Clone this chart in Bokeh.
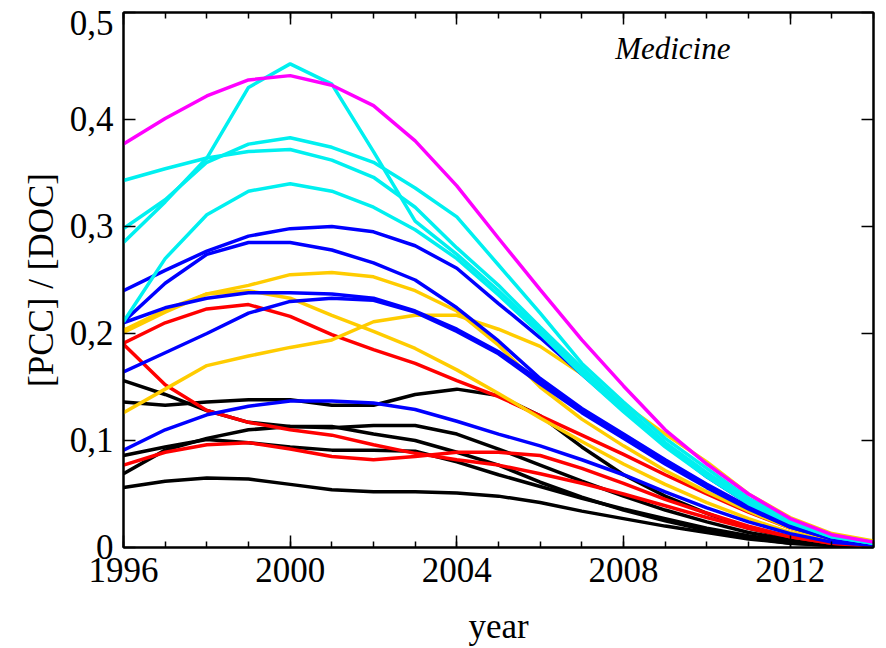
from bokeh.plotting import figure
from bokeh.models import Range1d, LinearAxis, FixedTicker, Label
from bokeh.embed import file_html
from bokeh.resources import INLINE

years = list(range(1996, 2015))

# PCC/DOC ratio per group, one value per year 1996..2014
magenta_1 = [0.377, 0.401, 0.422, 0.437, 0.441, 0.432, 0.413, 0.380, 0.338, 0.289,
             0.241, 0.194, 0.151, 0.110, 0.078, 0.050, 0.027, 0.012, 0.005]

cyan_a = [0.343, 0.354, 0.364, 0.370, 0.372, 0.362, 0.346, 0.318, 0.280, 0.245,
          0.206, 0.168, 0.132, 0.098, 0.070, 0.044, 0.025, 0.011, 0.004]
cyan_b = [0.298, 0.325, 0.360, 0.377, 0.383, 0.374, 0.360, 0.336, 0.309, 0.264,
          0.219, 0.172, 0.136, 0.102, 0.074, 0.046, 0.026, 0.011, 0.005]
cyan_c = [0.285, 0.323, 0.364, 0.430, 0.452, 0.433, 0.370, 0.305, 0.274, 0.240,
          0.203, 0.165, 0.130, 0.096, 0.068, 0.042, 0.024, 0.010, 0.004]
cyan_d = [0.211, 0.270, 0.311, 0.333, 0.340, 0.333, 0.318, 0.297, 0.270, 0.236,
          0.200, 0.162, 0.127, 0.094, 0.066, 0.041, 0.023, 0.010, 0.004]

blue_a = [0.240, 0.259, 0.277, 0.291, 0.298, 0.300, 0.295, 0.282, 0.261, 0.228,
          0.196, 0.162, 0.128, 0.096, 0.066, 0.041, 0.022, 0.009, 0.003]
blue_b = [0.211, 0.247, 0.274, 0.285, 0.285, 0.278, 0.266, 0.250, 0.224, 0.193,
          0.158, 0.130, 0.106, 0.082, 0.059, 0.038, 0.020, 0.008, 0.003]
blue_c = [0.210, 0.224, 0.233, 0.238, 0.238, 0.237, 0.233, 0.221, 0.204, 0.183,
          0.156, 0.128, 0.104, 0.080, 0.057, 0.037, 0.019, 0.008, 0.003]
blue_d = [0.164, 0.182, 0.200, 0.219, 0.230, 0.233, 0.231, 0.220, 0.202, 0.181,
          0.153, 0.126, 0.102, 0.078, 0.056, 0.036, 0.019, 0.008, 0.003]
blue_e = [0.091, 0.110, 0.124, 0.132, 0.137, 0.137, 0.135, 0.129, 0.118, 0.106,
          0.095, 0.082, 0.068, 0.052, 0.037, 0.024, 0.013, 0.005, 0.002]

yellow_a = [0.201, 0.220, 0.237, 0.245, 0.255, 0.257, 0.253, 0.240, 0.221, 0.189,
            0.150, 0.120, 0.095, 0.072, 0.052, 0.034, 0.018, 0.007, 0.003]
yellow_b = [0.203, 0.222, 0.237, 0.240, 0.233, 0.217, 0.202, 0.186, 0.166, 0.144,
            0.121, 0.099, 0.078, 0.059, 0.042, 0.027, 0.014, 0.006, 0.002]
yellow_c = [0.126, 0.148, 0.170, 0.179, 0.187, 0.194, 0.211, 0.217, 0.217, 0.204,
            0.188, 0.162, 0.134, 0.106, 0.080, 0.050, 0.028, 0.013, 0.006]

red_a = [0.191, 0.210, 0.223, 0.227, 0.216, 0.199, 0.185, 0.172, 0.156, 0.141,
         0.123, 0.105, 0.087, 0.068, 0.050, 0.033, 0.018, 0.007, 0.003]
red_b = [0.190, 0.152, 0.128, 0.117, 0.110, 0.105, 0.096, 0.088, 0.082, 0.077,
         0.069, 0.060, 0.050, 0.039, 0.028, 0.018, 0.010, 0.004, 0.001]
red_c = [0.077, 0.089, 0.096, 0.098, 0.092, 0.085, 0.082, 0.085, 0.089, 0.089,
         0.086, 0.074, 0.060, 0.045, 0.032, 0.020, 0.010, 0.004, 0.002]

black_a = [0.156, 0.143, 0.128, 0.117, 0.113, 0.112, 0.114, 0.114, 0.106, 0.092,
           0.077, 0.062, 0.048, 0.035, 0.024, 0.014, 0.007, 0.003, 0.001]
black_b = [0.136, 0.133, 0.136, 0.138, 0.138, 0.133, 0.133, 0.143, 0.148, 0.142,
           0.123, 0.094, 0.068, 0.048, 0.032, 0.018, 0.009, 0.003, 0.001]
black_c = [0.069, 0.091, 0.102, 0.110, 0.113, 0.113, 0.106, 0.100, 0.089, 0.077,
           0.061, 0.047, 0.035, 0.025, 0.016, 0.009, 0.004, 0.002, 0.001]
black_d = [0.086, 0.094, 0.101, 0.098, 0.094, 0.091, 0.091, 0.090, 0.080, 0.068,
           0.057, 0.046, 0.036, 0.027, 0.018, 0.011, 0.005, 0.002, 0.001]
black_e = [0.056, 0.062, 0.065, 0.064, 0.059, 0.054, 0.052, 0.052, 0.051, 0.048,
           0.042, 0.034, 0.027, 0.020, 0.014, 0.008, 0.004, 0.002, 0.001]

x_ticks = [1996, 2000, 2004, 2008, 2012]
y_ticks = [0, 0.1, 0.2, 0.3, 0.4, 0.5]
y_tick_labels = ["0", "0,1", "0,2", "0,3", "0,4", "0,5"]

groups = [
    ("#000000", [black_a, black_b, black_c, black_d, black_e]),
    ("#FF0000", [red_a, red_b, red_c]),
    ("#FFCC00", [yellow_a, yellow_b, yellow_c]),
    ("#0000FF", [blue_a, blue_b, blue_c, blue_d, blue_e]),
    ("#00F0F0", [cyan_a, cyan_b, cyan_c, cyan_d]),
    ("#FF00FF", [magenta_1]),
]

FONT = "Liberation Serif"

p = figure(width=886, height=648, output_backend="svg", toolbar_location=None,
           x_range=Range1d(1996, 2014), y_range=Range1d(0, 0.5),
           min_border_left=123, min_border_right=13,
           min_border_top=12, min_border_bottom=91)
p.grid.visible = False
p.outline_line_color = "black"
p.outline_line_width = 2
p.background_fill_color = "white"
p.border_fill_color = "white"

for color, series in groups:
    for s in series:
        p.line(years, s, line_color=color, line_width=3.5)

# bottom / left axes with labels
xa = p.xaxis[0]
xa.ticker = FixedTicker(ticks=x_ticks, minor_ticks=list(range(1996, 2015)))
xa.axis_label = "year"
ya = p.yaxis[0]
ya.ticker = FixedTicker(ticks=y_ticks, minor_ticks=[])
# the top label gets an empty first line so it sits just below its tick
overrides = {t: l for t, l in zip(y_ticks, y_tick_labels)}
overrides[0.5] = "\n" + y_tick_labels[-1]
ya.major_label_overrides = overrides
ya.major_label_text_line_height = 0.1
ya.axis_label = "[PCC] / [DOC]"

for ax in (xa, ya):
    ax.axis_line_width = 2
    ax.major_tick_in = 12
    ax.major_tick_out = 0
    ax.minor_tick_in = 6
    ax.minor_tick_out = 0
    ax.major_tick_line_width = 1.5
    ax.minor_tick_line_width = 1.5
    ax.major_label_text_font = FONT
    ax.major_label_text_font_size = "35px"
    ax.major_label_text_color = "black"
    ax.axis_label_text_font = FONT
    ax.axis_label_text_font_size = "35px"
    ax.axis_label_text_font_style = "normal"
    ax.axis_label_text_color = "black"

xa.major_label_standoff = 10
xa.axis_label_standoff = 22
ya.major_label_standoff = 10
ya.axis_label_standoff = 6

# mirrored tick marks on top and right
top = LinearAxis(ticker=FixedTicker(ticks=x_ticks, minor_ticks=list(range(1996, 2015))))
right = LinearAxis(ticker=FixedTicker(ticks=y_ticks, minor_ticks=[]))
for ax in (top, right):
    ax.axis_line_width = 2
    ax.major_tick_in = 12
    ax.major_tick_out = 0
    ax.minor_tick_in = 6
    ax.minor_tick_out = 0
    ax.major_tick_line_width = 1.5
    ax.minor_tick_line_width = 1.5
    ax.major_label_text_font_size = "0px"
    ax.major_label_text_color = None
    ax.major_label_standoff = 0
p.add_layout(top, "above")
p.add_layout(right, "right")

p.add_layout(Label(x=2007.8, y=0.466, text="Medicine", text_font=FONT,
                   text_font_size="31px", text_font_style="italic",
                   text_color="black", text_baseline="middle"))

open("out.html", "w").write(file_html(p, INLINE))
